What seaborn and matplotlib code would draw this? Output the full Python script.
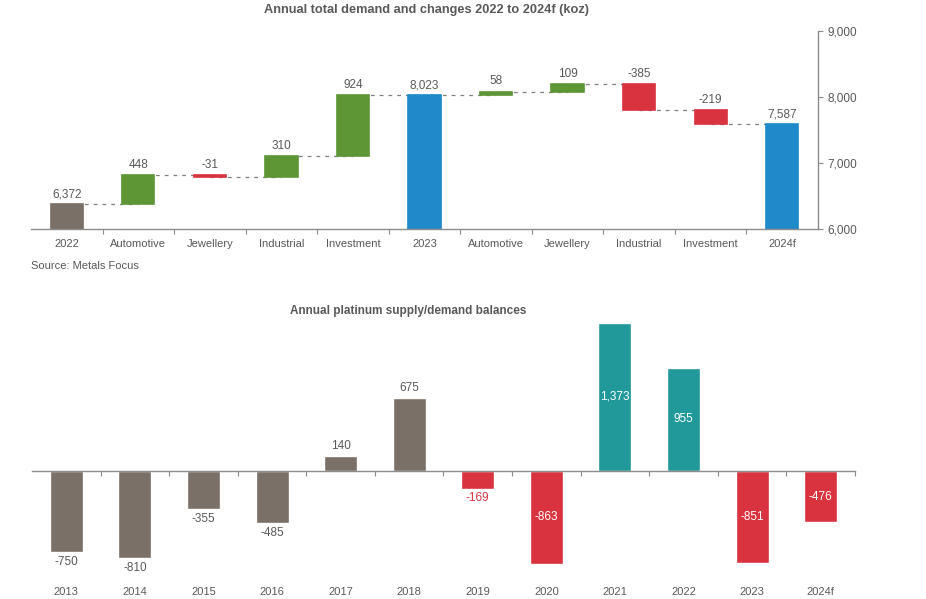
import numpy as np
import pandas as pd
import matplotlib
matplotlib.use("Agg")
import matplotlib.pyplot as plt
import seaborn as sns

# Datos del gráfico de cascada (koz)
demand_cats = ["2022", "Automotive", "Jewellery", "Industrial", "Investment", "2023",
               "Automotive", "Jewellery", "Industrial", "Investment", "2024f"]
demand_vals = [6372, 448, -31, 310, 924, 8023, 58, 109, -385, -219, 7587]
demand_kind = ["start", "change", "change", "change", "change", "total",
               "change", "change", "change", "change", "total"]

# Datos de balances anuales
balance_years = ["2013", "2014", "2015", "2016", "2017", "2018",
                 "2019", "2020", "2021", "2022", "2023", "2024f"]
balance_vals = [-750, -810, -355, -485, 140, 675, -169, -863, 1373, 955, -851, -476]
balance_group = ["hist"] * 6 + ["red", "red", "teal", "teal", "red", "red"]

GREY_BAR = "#7a7067"
GREEN = "#5e9636"
RED = "#d9333f"
BLUE = "#1f8ac9"
TEAL = "#21999a"
TXT = "#595959"
AXC = "#8c8c8c"

sns.set_theme(style="white")
plt.rcParams["font.family"] = ["Liberation Sans", "DejaVu Sans"]
plt.rcParams["text.color"] = TXT

fig = plt.figure(figsize=(9.26, 5.99), dpi=100)

# ---------------- Cascada ----------------
ax1 = fig.add_axes([31 / 926, 1 - 229 / 599, (818 - 31) / 926, (229 - 31) / 599])

bottoms, heights, colors, levels = [], [], [], []
level = 0
for v, k in zip(demand_vals, demand_kind):
    if k in ("start", "total"):
        bottoms.append(0)
        heights.append(v)
        colors.append(GREY_BAR if k == "start" else BLUE)
        level = v
    else:
        bottoms.append(level if v > 0 else level + v)
        heights.append(abs(v))
        colors.append(GREEN if v > 0 else RED)
        level = level + v
    levels.append(level)

df1 = pd.DataFrame({"pos": np.arange(len(demand_cats)), "h": heights})
sns.barplot(data=df1, x="pos", y="h", hue="pos", palette=colors, legend=False,
            width=0.45, saturation=1, ax=ax1, zorder=2)
for p, b, c in zip(ax1.patches, bottoms, colors):
    p.set_y(b)
    p.set_edgecolor(c)
    p.set_linewidth(1.2)

# conectores punteados
for i in range(len(demand_cats) - 1):
    ax1.plot([i, i + 1], [levels[i], levels[i]], ls=(0, (3, 4)), color="#7f7f7f",
             lw=0.9, zorder=1)

for i, (v, b, h) in enumerate(zip(demand_vals, bottoms, heights)):
    ax1.annotate(f"{v:,}", (i, b + h), xytext=(0, 3), textcoords="offset points",
                 ha="center", va="bottom", fontsize=8.5, color=TXT)

ax1.set_xlim(-0.5, len(demand_cats) - 0.5)
ax1.set_ylim(6000, 9000)
ax1.yaxis.tick_right()
ax1.set_yticks([6000, 7000, 8000, 9000])
ax1.set_yticklabels([f"{t:,}" for t in [6000, 7000, 8000, 9000]])
ax1.set_xticks(np.arange(len(demand_cats)))
ax1.set_xticklabels(demand_cats)
ax1.set_xticks(np.arange(0.5, len(demand_cats) - 1, 1), minor=True)
ax1.tick_params(axis="x", which="major", length=0, pad=7, labelsize=8, labelcolor=TXT)
ax1.tick_params(axis="x", which="minor", length=3.5, width=0.8, color=AXC, direction="out", bottom=True)
ax1.tick_params(axis="y", length=3.5, width=0.8, color=AXC, direction="out", right=True,
                labelsize=8.5, labelcolor=TXT, pad=3)
ax1.set_xlabel("")
ax1.set_ylabel("")
for s in ["left", "top"]:
    ax1.spines[s].set_visible(False)
for s in ["right", "bottom"]:
    ax1.spines[s].set_color(AXC)
    ax1.spines[s].set_linewidth(1)

fig.text(427 / 926, 1 - 10 / 599, "Annual total demand and changes 2022 to 2024f (koz)",
         ha="center", va="center", fontsize=9.2, fontweight="bold", color=TXT)
fig.text(31 / 926, 1 - 266 / 599, "Source: Metals Focus", ha="left", va="center",
         fontsize=8, color=TXT)

# ---------------- Balances ----------------
ax2 = fig.add_axes([32 / 926, 1 - 568 / 599, (855 - 32) / 926, (568 - 320) / 599])
pal2 = {"hist": GREY_BAR, "red": RED, "teal": TEAL}
df2 = pd.DataFrame({"pos": np.arange(len(balance_years)), "v": balance_vals,
                    "g": balance_group})
sns.barplot(data=df2, x="pos", y="v", hue="g", palette=pal2, legend=False, dodge=False,
            width=0.48, saturation=1, ax=ax2, zorder=2)

for i, (v, g) in enumerate(zip(balance_vals, balance_group)):
    lab = f"{v:,}"
    if g == "hist":
        if v > 0:
            ax2.annotate(lab, (i, v), xytext=(0, 3), textcoords="offset points",
                         ha="center", va="bottom", fontsize=8.5, color=TXT)
        else:
            ax2.annotate(lab, (i, v), xytext=(0, -3), textcoords="offset points",
                         ha="center", va="top", fontsize=8.5, color=TXT)
    elif abs(v) < 250:
        ax2.annotate(lab, (i, v), xytext=(0, -2), textcoords="offset points",
                     ha="center", va="top", fontsize=8.5, color=RED)
    else:
        ax2.text(i, v / 2, lab, ha="center", va="center", fontsize=8.5, color="white")

ax2.set_xlim(-0.5, len(balance_years) - 0.5)
ax2.set_ylim(-900, 1400)
ax2.spines["bottom"].set_position(("data", 0))
ax2.spines["bottom"].set_color(AXC)
ax2.spines["bottom"].set_linewidth(1)
for s in ["left", "top", "right"]:
    ax2.spines[s].set_visible(False)
ax2.set_yticks([])
ax2.set_xticks(np.arange(len(balance_years)))
ax2.set_xticklabels([])
ax2.set_xticks(np.arange(0.5, len(balance_years), 1), minor=True)
ax2.tick_params(axis="x", which="major", length=0)
ax2.tick_params(axis="x", which="minor", length=3.5, width=0.8, color=AXC, direction="out", bottom=True)
ax2.set_xlabel("")
ax2.set_ylabel("")

sec = ax2.secondary_xaxis(-0.065)
sec.set_xticks(np.arange(len(balance_years)))
sec.set_xticklabels(balance_years)
sec.tick_params(length=0, labelsize=8, labelcolor=TXT, pad=2)
sec.spines["bottom"].set_visible(False)

fig.text(408 / 926, 1 - 311 / 599, "Annual platinum supply/demand balances",
         ha="center", va="center", fontsize=8.5, fontweight="bold", color=TXT)

fig.savefig("out.png", dpi=100)
